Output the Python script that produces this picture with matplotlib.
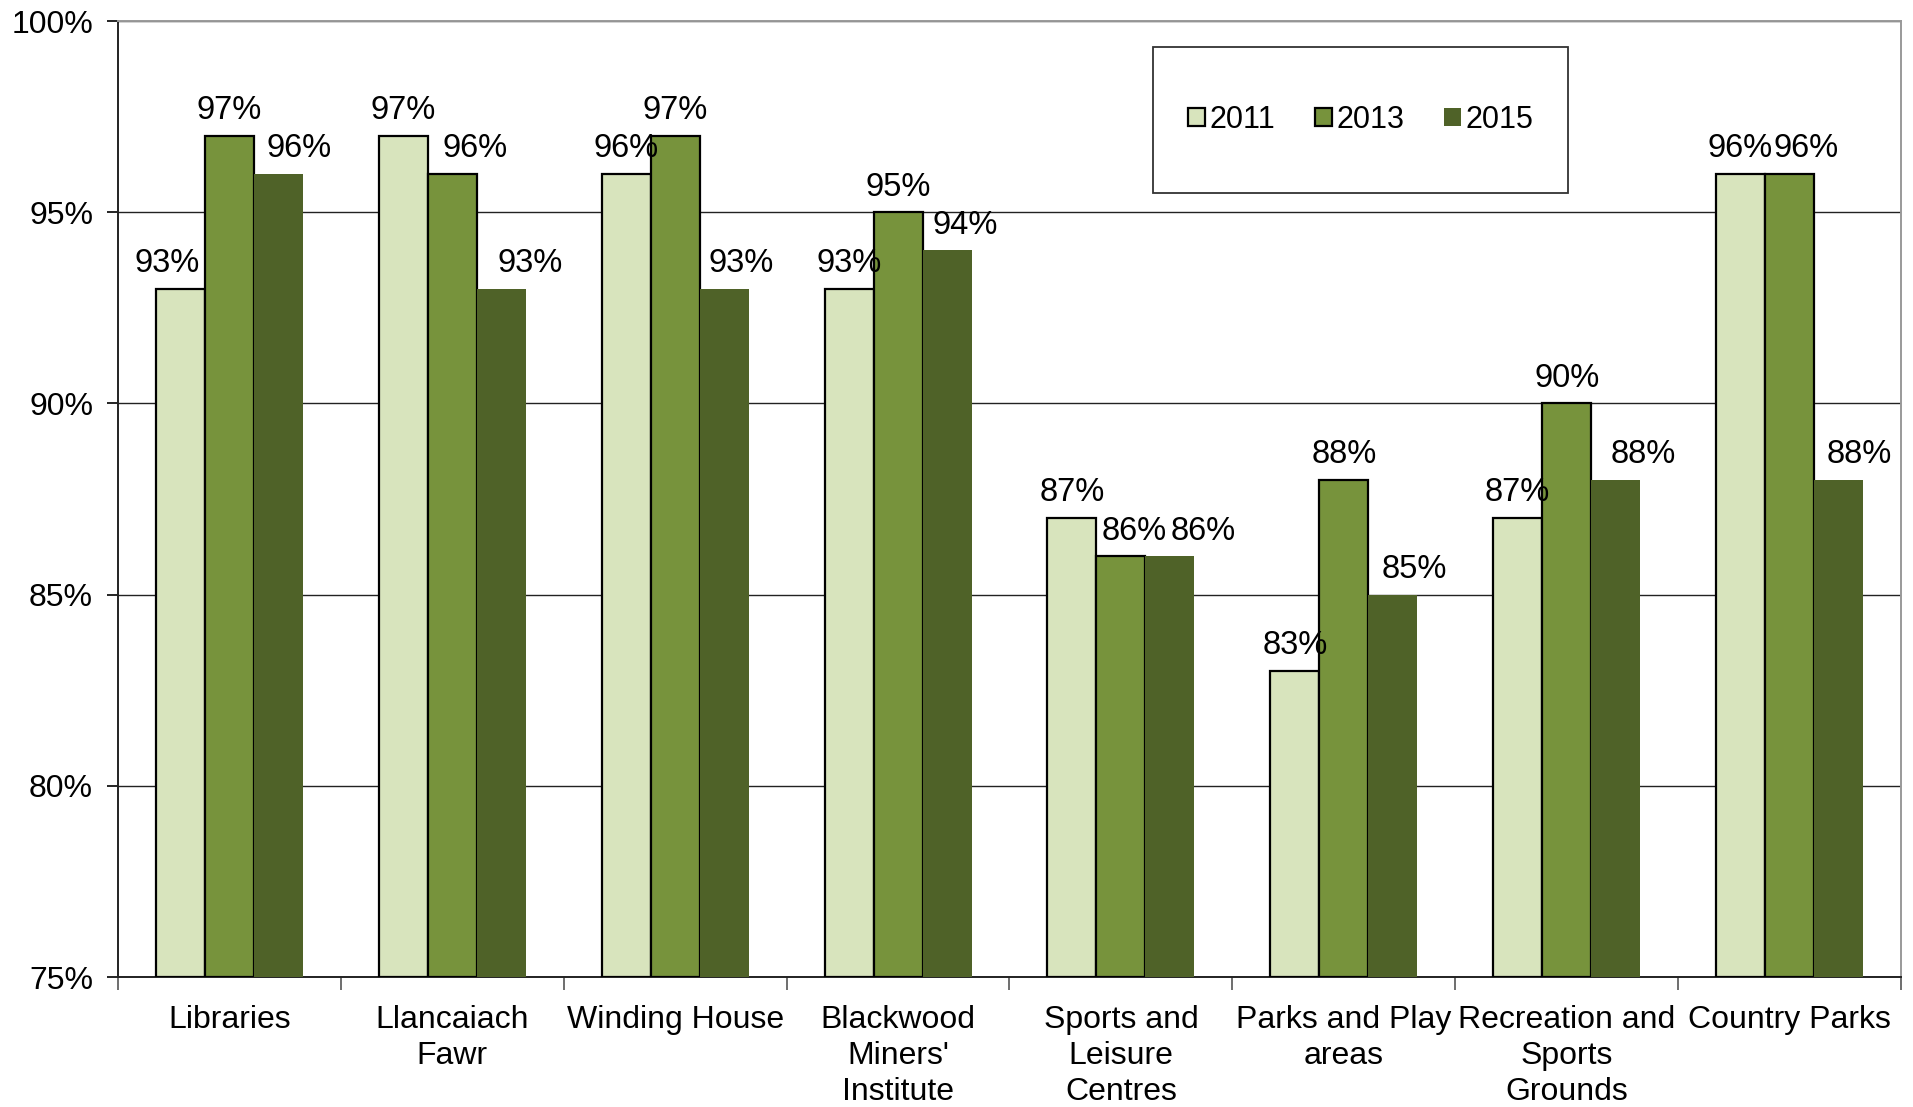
import matplotlib
matplotlib.use("Agg")
import matplotlib.pyplot as plt
import numpy as np
from matplotlib.patches import Rectangle, Patch

plt.rcParams['font.family'] = ['Liberation Sans', 'DejaVu Sans']

categories = ["Libraries", "Llancaiach\nFawr", "Winding House", "Blackwood\nMiners'\nInstitute",
              "Sports and\nLeisure\nCentres", "Parks and Play\nareas", "Recreation and\nSports\nGrounds",
              "Country Parks"]
years = ["2011", "2013", "2015"]
v2011 = [93, 97, 96, 93, 87, 83, 87, 96]
v2013 = [97, 96, 97, 95, 86, 88, 90, 96]
v2015 = [96, 93, 93, 94, 86, 85, 88, 88]
yticks = [75, 80, 85, 90, 95, 100]

colors = ["#D8E4BD", "#77933C", "#4F6228"]
edges = ["black", "black", "none"]
series = [v2011, v2013, v2015]

# label nudges in pixels (styling only)
series_nudge = [0, 0, 21]
extra_nudge = {(0, 0): -13, (1, 1): 23, (4, 1): 13, (7, 1): 17,
               (1, 2): 8, (4, 2): 12, (6, 2): 7, (2, 2): -4, (3, 2): -3}

fig = plt.figure(figsize=(19.13, 11.07), dpi=100)
ax = fig.add_axes([0.0617, 0.1174, 0.9320, 0.8636])

x = np.arange(len(categories))
w = 0.22
for i, (vals, c, e) in enumerate(zip(series, colors, edges)):
    pos = x + (i - 1) * w
    ax.bar(pos, [v - 75 for v in vals], bottom=75, width=w, color=c,
           edgecolor=e, linewidth=1.6 if e != "none" else 0, zorder=3, label=years[i])
    for j, (p, v) in enumerate(zip(pos, vals)):
        dx = (series_nudge[i] + extra_nudge.get((j, i), 0)) * 0.72
        ax.annotate(f"{v}%", (p, v), xytext=(dx, 7), textcoords="offset points",
                    ha="center", va="bottom", fontsize=23.5, color="black", zorder=4)

ax.set_xlim(-0.5, len(categories) - 0.5)
ax.set_ylim(75, 100)
ax.set_yticks(yticks)
ax.set_yticklabels([f"{t}%" for t in yticks], fontsize=23)
ax.set_xticks(x)
ax.set_xticklabels(categories, fontsize=23, linespacing=1.27)
ax.set_xticks(np.arange(-0.5, len(categories), 1), minor=True)
ax.tick_params(axis="x", which="major", length=0, pad=20)
ax.tick_params(axis="x", which="minor", length=9, width=1.2, direction="out", color="#555555")
ax.tick_params(axis="y", which="major", length=8, width=1.2, direction="out", pad=10)

ax.yaxis.grid(True, color="#222222", linewidth=1.0, zorder=0)
ax.set_axisbelow(True)
for s in ["left", "bottom"]:
    ax.spines[s].set_color("#222222")
    ax.spines[s].set_linewidth(1.4)
for s in ["top", "right"]:
    ax.spines[s].set_color("#999999")
    ax.spines[s].set_linewidth(1.4)

# legend box
lx0, ly0, lw, lh = 1153 / 1913, (1107 - 193) / 1107, 415 / 1913, 146 / 1107
fig.patches.append(Rectangle((lx0, ly0), lw, lh, transform=fig.transFigure,
                             facecolor="white", edgecolor="#333333", linewidth=1.3, zorder=5))
handles = [Patch(facecolor=c, edgecolor=e, linewidth=1.6 if e != "none" else 0) for c, e in zip(colors, edges)]
leg = fig.legend(handles, years, loc="center", bbox_to_anchor=(lx0 + lw / 2, ly0 + lh / 2),
                 ncol=3, frameon=False, fontsize=22, handlelength=0.55, handleheight=0.55,
                 handletextpad=0.15, columnspacing=1.3)
leg.set_zorder(6)

fig.savefig("out.png", dpi=100)
